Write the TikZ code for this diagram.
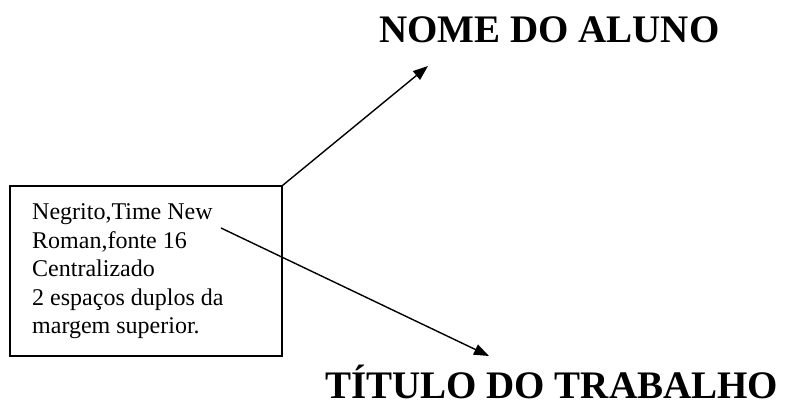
\documentclass[tikz,border=0pt]{standalone}
\usepackage{fontspec}
\setmainfont{Liberation Serif}
\usetikzlibrary{arrows.meta}
\tikzset{
  title/.style={font=\fontsize{39}{40}\selectfont\bfseries, inner sep=0pt, anchor=base west},
  note/.style={font=\fontsize{24}{28.5}\selectfont, inner sep=0pt, anchor=base west},
  frame/.style={draw, line width=1.2pt, minimum width=272pt, minimum height=170pt, inner sep=0pt},
  arr/.style={line width=1.4pt, -{Triangle[length=15pt,width=11pt]}}
}
\begin{document}
\begin{tikzpicture}[x=1pt,y=-1pt]
\useasboundingbox (0,0) rectangle (795,402);
\node[title] (nome) at (379,42) {NOME DO ALUNO};
\node[title] (tit) at (325,398) {TÍTULO DO TRABALHO};
\node[frame] (box) at (146,271) {};
\node[note] (l1) at (32,219) {Negrito,Time New};
\node[note] (l2) at (32,248) {Roman,fonte 16};
\node[note] (l3) at (32,276.5) {Centralizado};
\node[note] (l4) at (32,305) {2 espaços duplos da};
\node[note] (l5) at (32,333) {margem superior.};
\coordinate (t1) at (428,66);
\coordinate (s2) at (221,228);
\coordinate (t2) at (489,356);
\draw[arr] (box.north east) -- (t1);
\draw[arr] (s2) -- (t2);
\end{tikzpicture}
\end{document}
